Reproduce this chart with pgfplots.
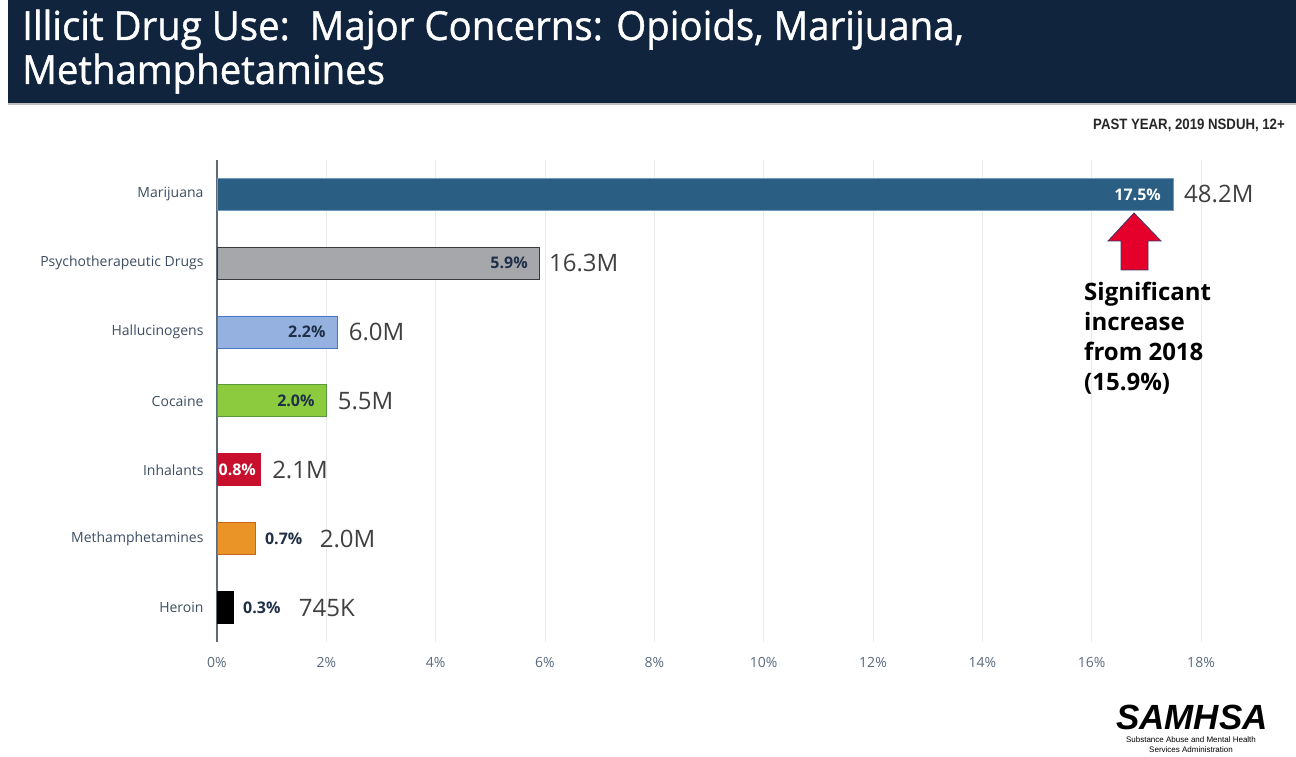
\documentclass[border=0pt]{standalone}
\usepackage{fontspec}
\setmainfont{Open Sans}
\newfontfamily\titlefont[FakeStretch=0.96,FakeBold=1]{Open Sans}
\newfontfamily\arialfont{Liberation Sans}
\newfontfamily\subfont[FakeStretch=0.88]{Liberation Sans}
\usepackage{pgfplots}
\pgfplotsset{compat=1.18}
\definecolor{navy}{HTML}{10243E}
\definecolor{gridc}{HTML}{EBEBEB}
\definecolor{axc}{HTML}{5C6B7C}
\definecolor{tickc}{HTML}{5A6B80}
\definecolor{catc}{HTML}{3E4E62}
\definecolor{bigc}{HTML}{404040}
\definecolor{darklab}{HTML}{1F3048}
\definecolor{cMar}{HTML}{2A5E83}
\definecolor{cMarB}{HTML}{6E9BBD}
\definecolor{cPsy}{HTML}{A5A7AA}
\definecolor{cPsyB}{HTML}{3A3A3A}
\definecolor{cHal}{HTML}{94B1E0}
\definecolor{cHalB}{HTML}{4A76C8}
\definecolor{cCoc}{HTML}{8CCB3E}
\definecolor{cCocB}{HTML}{5A9A3A}
\definecolor{cInh}{HTML}{C8102E}
\definecolor{cMet}{HTML}{EA9428}
\definecolor{cMetB}{HTML}{C8651A}
\definecolor{arrowred}{HTML}{E4002B}
\definecolor{arrowb}{HTML}{3A3A6A}
\begin{document}
\begin{tikzpicture}
\useasboundingbox (0,0) rectangle (1296pt,757pt);
\fill[white] (0,0) rectangle (1296pt,757pt);
\fill[navy] (8pt,654pt) rectangle (1296pt,757pt);
\fill[black!25] (8pt,652pt) rectangle (1296pt,654pt);
\node[anchor=base west, text=white, inner sep=0pt, font=\titlefont\fontsize{40}{44}\selectfont] at (22pt,717pt) {Illicit Drug Use:\ \ Major Concerns: Opioids, Marijuana,};
\node[anchor=base west, text=white, inner sep=0pt, font=\titlefont\fontsize{40}{44}\selectfont] at (22pt,673pt) {Methamphetamines};
\node[anchor=base east, inner sep=0pt, text=black!85, font=\subfont\bfseries\fontsize{15}{17}\selectfont] at (1285pt,627pt) {PAST YEAR, 2019 NSDUH, 12+};

\begin{axis}[
  at={(217pt,115pt)}, anchor=south west,
  scale only axis, width=984pt, height=482pt,
  xmin=0, xmax=18, ymin=-0.5, ymax=6.5,
  xtick={0,2,...,18},
  xticklabels={0\%,2\%,4\%,6\%,8\%,10\%,12\%,14\%,16\%,18\%},
  ytick={0,...,6},
  yticklabels={Heroin,Methamphetamines,Inhalants,Cocaine,Hallucinogens,Psychotherapeutic Drugs,Marijuana},
  xmajorgrids, grid style={draw=gridc, line width=1pt},
  major tick length=0pt,
  axis x line*=bottom, axis y line*=left,
  x axis line style={draw=none},
  y axis line style={draw=axc, line width=2pt},
  xticklabel style={font=\fontsize{14}{16}\selectfont, text=tickc, yshift=-12pt},
  yticklabel style={font=\fontsize{14}{16}\selectfont, text=catc, xshift=-10pt},
  xbar, bar width=32pt, bar shift=0pt,
  clip=false,
  pct/.style={nodes near coords={\pgfmathprintnumber[fixed,fixed zerofill,precision=1,assume math mode=true]{\pgfplotspointmeta}\%}, point meta=x},
  inlab/.style={every node near coord/.append style={anchor=east, xshift=#1, font=\bfseries\fontsize{16}{18}\selectfont}},
  outlab/.style={every node near coord/.append style={anchor=west, xshift=#1, font=\bfseries\fontsize{16}{18}\selectfont, text=darklab}},
  big/.style={draw=none, fill=none, point meta=explicit symbolic, nodes near coords,
    every node near coord/.append style={anchor=west, xshift=#1, text=bigc, font=\fontsize{24}{26}\selectfont}},
]
% percentage bars
\addplot[fill=cMar, draw=cMarB, line width=1pt, pct, inlab=-9pt, every node near coord/.append style={text=white}] coordinates {(17.5,6)};
\addplot[fill=cPsy, draw=cPsyB, line width=1pt, pct, inlab=-8pt, every node near coord/.append style={text=darklab}] coordinates {(5.9,5)};
\addplot[fill=cHal, draw=cHalB, line width=1pt, pct, inlab=-8pt, every node near coord/.append style={text=darklab}] coordinates {(2.2,4)};
\addplot[fill=cCoc, draw=cCocB, line width=1pt, pct, inlab=-8pt, every node near coord/.append style={text=darklab}] coordinates {(2.0,3)};
\addplot[fill=cInh, draw=cInh, line width=1pt, pct, inlab=-1pt, every node near coord/.append style={text=white}] coordinates {(0.8,2)};
\addplot[fill=cMet, draw=cMetB, line width=1pt, pct, outlab=6pt] coordinates {(0.7,1)};
\addplot[fill=black, draw=black, line width=1pt, pct, outlab=6pt] coordinates {(0.3,0)};
% population labels
\addplot[big=7pt] coordinates {(17.5,6) [48.2M]};
\addplot[big=6pt] coordinates {(5.9,5) [16.3M]};
\addplot[big=8pt] coordinates {(2.2,4) [6.0M]};
\addplot[big=8pt] coordinates {(2.0,3) [5.5M]};
\addplot[big=8pt] coordinates {(0.8,2) [2.1M]};
\addplot[big=61pt] coordinates {(0.7,1) [2.0M]};
\addplot[big=62pt] coordinates {(0.3,0) [745K]};
\end{axis}

% arrow annotation
\draw[fill=arrowred, draw=arrowb, line width=0.8pt] (1134pt,544pt) -- (1161pt,516pt) -- (1148pt,516pt) -- (1148pt,487pt) -- (1121pt,487pt) -- (1121pt,516pt) -- (1108pt,516pt) -- cycle;
\foreach \t/\y in {Significant/456, increase/426, from 2018/396, (15.9\%)/366}
  \node[anchor=base west, inner sep=0pt, font=\bfseries\fontsize{24}{28}\selectfont] at (1084pt,\y pt) {\t};

% logo
\node[anchor=base west, inner sep=0pt, font=\arialfont\bfseries\itshape\fontsize{35}{38}\selectfont] at (1116pt,27pt) {SAMHSA};
\node[anchor=base, inner sep=0pt, font=\arialfont\fontsize{8}{9}\selectfont] at (1191pt,14pt) {Substance Abuse and Mental Health};
\node[anchor=base, inner sep=0pt, font=\arialfont\fontsize{8}{9}\selectfont] at (1191pt,4pt) {Services Administration};
\end{tikzpicture}
\end{document}
